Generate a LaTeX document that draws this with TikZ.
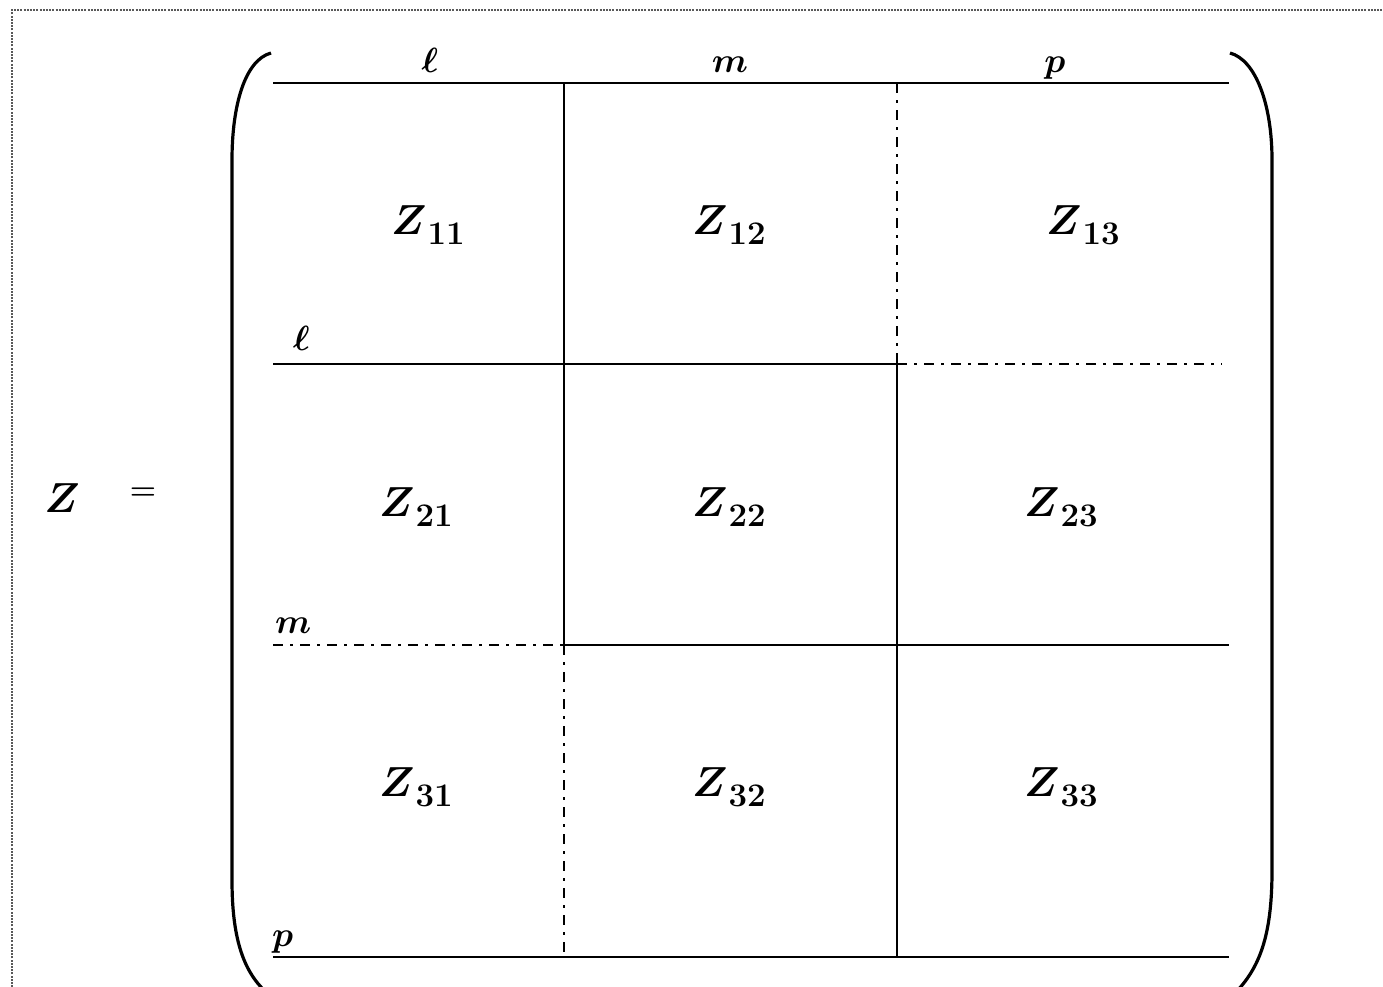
\RequirePackage{fix-cm}
\documentclass[tikz,border=0pt]{standalone}
\usepackage{bm}
\newcommand{\blkZ}[1]{$\bm{Z}$\kern1pt\raisebox{-10pt}{\fontsize{33}{34}\selectfont\bfseries #1}}
\tikzset{
  gridline/.style={line width=2.9pt, black},
  dashdot/.style={line width=2.6pt, black, dash pattern=on 10pt off 7pt on 3pt off 7pt},
  framebox/.style={line width=2.6pt, black!65, dash pattern=on 2pt off 1.2pt},
  paren/.style={line width=3.2pt, black},
  blk/.style={font=\fontsize{42}{48}\selectfont, inner sep=0pt},
  lbl/.style={font=\fontsize{35}{42}\selectfont, inner sep=0pt},
}
\begin{document}
\begin{tikzpicture}[x=1pt,y=-1pt]
\useasboundingbox (0,0) rectangle (1383,986);
\begin{scope}
\clip (0,0) rectangle (1383,986);
% outer dotted frame
\draw[framebox] (12,1000) -- (12,10) -- (1400,10);
% parentheses
\draw[paren] (271,53) .. controls (245,60) and (232,105) .. (232,160) -- (232,880) .. controls (232,935) and (242,970) .. (266,992);
\draw[paren] (1230,53) .. controls (1256,60) and (1272,105) .. (1272,160) -- (1272,870) .. controls (1272,930) and (1262,965) .. (1236,992);
\end{scope}
% grid coordinates
\coordinate (a0) at (273,83);  \coordinate (a1) at (564,83);  \coordinate (a2) at (897,83);  \coordinate (a3) at (1229,83);
\coordinate (b0) at (273,364); \coordinate (b1) at (564,364); \coordinate (b2) at (897,364); \coordinate (b3) at (1222,364);
\coordinate (c0) at (273,645); \coordinate (c1) at (564,645); \coordinate (c2) at (897,645); \coordinate (c3) at (1229,645);
\coordinate (d0) at (273,957); \coordinate (d1) at (564,952); \coordinate (d2) at (897,957); \coordinate (d3) at (1229,957);
% horizontal lines
\draw[gridline] (a0) -- (a3);
\draw[gridline] (b0) -- (b2);
\draw[dashdot] (b2) -- (b3);
\draw[dashdot] (c0) -- (c1);
\draw[gridline] (c1) -- (c3);
\draw[gridline] (d0) -- (d3);
% vertical lines
\draw[gridline] (a1) -- (c1);
\draw[dashdot] (c1) -- (d1);
\draw[dashdot] (a2) -- (b2);
\draw[gridline] (b2) -- (d2);
% top labels
\node[lbl, anchor=base] (tl) at (430,72) {$\bm{\ell}$};
\node[lbl, anchor=base] (tm) at (730,72) {$\bm{m}$};
\node[lbl, anchor=base] (tp) at (1055,72) {$\bm{p}$};
% side labels
\node[lbl, anchor=base west] (sl) at (293,350) {$\bm{\ell}$};
\node[lbl, anchor=base west] (sm) at (275,633) {$\bm{m}$};
\node[lbl, anchor=base west] (sp) at (272,946) {$\bm{p}$};
% blocks
\node[blk] (z11) at (428,225) {\blkZ{11}};
\node[blk] (z12) at (729,225) {\blkZ{12}};
\node[blk] (z13) at (1083,225) {\blkZ{13}};
\node[blk] (z21) at (416,507) {\blkZ{21}};
\node[blk] (z22) at (729,507) {\blkZ{22}};
\node[blk] (z23) at (1061,507) {\blkZ{23}};
\node[blk] (z31) at (416,787) {\blkZ{31}};
\node[blk] (z32) at (729,787) {\blkZ{32}};
\node[blk] (z33) at (1061,787) {\blkZ{33}};
% Z =
\node[blk] (zz) at (62,498) {$\bm{Z}$};
\node[font=\fontsize{30}{36}\selectfont\bfseries, inner sep=0pt] (eq) at (143,494) {=};
\end{tikzpicture}
\end{document}
